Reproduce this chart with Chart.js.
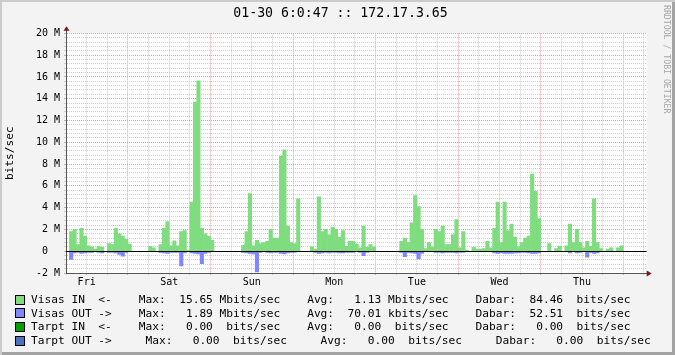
<!DOCTYPE html>
<html>
<head>
<meta charset="utf-8">
<script src="https://cdn.jsdelivr.net/npm/chart.js@4/dist/chart.umd.min.js"></script>
<style>
  html, body { margin: 0; padding: 0; background: #f3f3f3; }
  #wrap {
    position: relative; width: 675px; height: 355px; overflow: hidden;
    background: #f3f3f3;
    box-shadow: inset 2px 2px 0 #cbcbcb, inset -3px -3px 0 #a3a3a3;
  }
  #wrap canvas { position: absolute; left: 0; top: 0; }
  .lg { position: absolute; left: 31px; margin: 0; white-space: pre; color: #000;
        font: 11.2px 'DejaVu Sans Mono', monospace; line-height: 13.6px; }
  .box { position: absolute; left: 15px; width: 8px; height: 8px; border: 1px solid #000; }
  #mark { position: absolute; left: 662px; top: 5px; writing-mode: vertical-rl;
          font: 8.2px 'DejaVu Sans Mono', monospace; line-height: 10px; color: #a6a6a6; }
</style>
</head>
<body>
<div id="wrap">
  <canvas id="graph" width="675" height="355"></canvas>
  <div id="mark">RRDTOOL / TOBI OETIKER</div>
</div>
<script>
// hourly averages, Mbits/sec, from Fri 06:00 to Fri 06:00
const DAYS = ['Fri', 'Sat', 'Sun', 'Mon', 'Tue', 'Wed', 'Thu'];

const visasIn = [
  0, 1.8, 2.0, 0.6, 2.1, 1.4, 0.5, 0.4, 0.2, 0.45, 0.35, 0, 0.7, 0.6, 2.1, 1.6, 1.4, 1.1, 0.65, 0, 0, 0, 0, 0,
  0.45, 0.3, 0, 0.6, 2.1, 2.7, 0.5, 0.95, 0.5, 1.8, 1.9, 0.1, 4.5, 13.7, 15.65, 2.1, 1.6, 1.4, 1.0, 0, 0, 0, 0, 0,
  0, 0, 0, 0.55, 1.8, 5.3, 0.5, 1.0, 0.7, 0.8, 0.9, 2.0, 1.2, 1.2, 8.7, 9.3, 2.3, 0.8, 0.7, 4.8, 0, 0, 0, 0.4,
  0.2, 5.0, 1.8, 2.0, 1.5, 2.2, 2.0, 1.3, 1.9, 0.45, 0.9, 0.9, 0.65, 0.3, 2.3, 0.35, 0.6, 0.4, 0, 0, 0, 0, 0, 0,
  0, 0.9, 1.2, 0.8, 2.6, 5.1, 4.1, 2.0, 0.25, 0.8, 0.4, 2.0, 1.8, 2.3, 0.6, 0.6, 1.5, 2.9, 0.3, 1.8, 0.1, 0, 0.35, 0.2,
  0.2, 0.25, 0.9, 0.3, 2.1, 4.5, 0.8, 4.5, 1.9, 2.5, 1.3, 0.4, 0.8, 1.2, 1.4, 7.07, 5.5, 3.0, 0, 0, 0.7, 0, 0.25, 0.45,
  0, 0.5, 2.5, 0.8, 2.0, 0.8, 0.3, 0.9, 0.45, 4.8, 0.8, 0.25, 0, 0.2, 0.3, 0, 0.3, 0.5, 0, 0, 0, 0, 0, 0,
];

const visasOut = [
  0, -0.75, -0.15, -0.1, -0.2, -0.15, -0.1, -0.1, -0.05, -0.1, -0.15, 0, -0.1, -0.1, -0.15, -0.3, -0.45, -0.1, -0.05, 0, 0, 0, 0, 0,
  -0.05, -0.05, 0, -0.1, -0.15, -0.2, -0.1, -0.1, -0.1, -1.35, -0.15, 0, -0.15, -0.2, -0.25, -1.15, -0.2, -0.1, -0.05, 0, 0, 0, 0, 0,
  0, 0, 0, -0.1, -0.15, -0.2, -0.25, -1.89, -0.1, -0.05, -0.1, -0.15, -0.1, -0.1, -0.2, -0.25, -0.15, -0.1, -0.1, -0.05, 0, 0, 0, -0.05,
  -0.1, -0.2, -0.15, -0.1, -0.15, -0.1, -0.1, -0.15, -0.15, -0.1, -0.1, -0.1, -0.05, -0.1, -0.4, -0.1, -0.05, -0.05, 0, 0, 0, 0, 0, 0,
  0, -0.1, -0.5, -0.1, -0.15, -0.2, -0.7, -0.2, -0.05, -0.05, -0.05, -0.1, -0.1, -0.15, -0.1, -0.1, -0.1, -0.15, -0.1, -0.1, -0.05, 0, -0.05, 0,
  -0.05, 0, -0.05, -0.05, -0.15, -0.2, -0.15, -0.2, -0.2, -0.2, -0.15, -0.15, -0.1, -0.1, -0.15, -0.2, -0.2, -0.15, 0, 0, -0.05, 0, 0, -0.05,
  0, -0.05, -0.15, -0.05, -0.15, -0.1, -0.05, -0.55, -0.1, -0.2, -0.15, -0.05, 0, 0, -0.05, 0, 0, -0.05, 0, 0, 0, 0, 0, 0,
];

const legendColors = ['#7fdd7f', '#7f86ff', '#00a000', '#5070c0'];
const legendLines = [
  'Visas IN  <-    Max:  15.65 Mbits/sec    Avg:   1.13 Mbits/sec    Dabar:  84.46  bits/sec',
  'Visas OUT ->    Max:   1.89 Mbits/sec    Avg:  70.01 kbits/sec    Dabar:  52.51  bits/sec',
  'Tarpt IN  <-    Max:   0.00  bits/sec    Avg:   0.00  bits/sec    Dabar:   0.00  bits/sec',
  'Tarpt OUT ->     Max:   0.00  bits/sec     Avg:   0.00  bits/sec     Dabar:   0.00  bits/sec',
];

const Y_MIN = -2, Y_MAX = 20, Y_MINOR = 0.4;
const X_MAX = 168.8, X_STEP = 6;

const GRID  = '#cdcdcd';
const MGRID = '#e6a0a0';
const AXIS  = '#555';
const ARROW = '#7f1515';
const FONT  = "'DejaVu Sans Mono', monospace";
const CLEAR = 'rgba(0,0,0,0)';

// legend rows (html text)
const wrap = document.getElementById('wrap');
legendLines.forEach((txt, i) => {
  const b = document.createElement('div');
  b.className = 'box';
  b.style.top = (294.8 + i * 13.6) + 'px';
  b.style.background = legendColors[i];
  wrap.appendChild(b);
  const l = document.createElement('div');
  l.className = 'lg';
  l.style.top = (293 + i * 13.6) + 'px';
  l.textContent = txt;
  wrap.appendChild(l);
});

const isMajor = v => Math.abs(v / 2 - Math.round(v / 2)) < 1e-6;

const plotBg = {
  id: 'plotBg',
  beforeDraw(chart) {
    const { ctx, chartArea: a } = chart;
    ctx.save();
    ctx.fillStyle = '#fff';
    ctx.fillRect(a.left, a.top, a.right - a.left, a.bottom - a.top);
    ctx.restore();
  },
};

const axisDeco = {
  id: 'axisDeco',
  afterDatasetsDraw(chart) {
    const { ctx, chartArea: a, scales } = chart;
    const y0 = Math.floor(scales.y.getPixelForValue(0)) + 0.5;
    ctx.save();
    ctx.strokeStyle = '#000';
    ctx.lineWidth = 1;
    ctx.beginPath();
    ctx.moveTo(a.left, y0);
    ctx.lineTo(a.right, y0);
    ctx.stroke();
    ctx.restore();
  },
  afterDraw(chart) {
    const { ctx, chartArea: a } = chart;
    const x = Math.round(a.left) + 0.5;
    const y = Math.round(a.bottom) + 0.5;
    ctx.save();
    ctx.strokeStyle = AXIS;
    ctx.lineWidth = 1;
    ctx.beginPath();
    ctx.moveTo(x, a.top); ctx.lineTo(x, a.top - 4);
    ctx.moveTo(a.right, y); ctx.lineTo(a.right + 3, y);
    ctx.stroke();
    ctx.fillStyle = ARROW;
    ctx.beginPath();
    ctx.moveTo(x - 3, a.top - 2.5); ctx.lineTo(x + 3, a.top - 2.5); ctx.lineTo(x, a.top - 7);
    ctx.closePath(); ctx.fill();
    ctx.beginPath();
    ctx.moveTo(a.right, y - 3); ctx.lineTo(a.right, y + 3); ctx.lineTo(a.right + 5, y);
    ctx.closePath(); ctx.fill();
    ctx.restore();
  },
};

const barOpts = { grouped: false, barPercentage: 1, categoryPercentage: 1, borderWidth: 0 };

new Chart(document.getElementById('graph'), {
  type: 'bar',
  data: {
    datasets: [
      { label: 'Visas IN', data: visasIn.map((v, i) => ({ x: i + 0.5, y: v })),
        backgroundColor: legendColors[0], ...barOpts },
      { label: 'Visas OUT', data: visasOut.map((v, i) => ({ x: i + 0.5, y: v })),
        backgroundColor: legendColors[1], ...barOpts },
    ],
  },
  options: {
    responsive: false,
    devicePixelRatio: 1,
    animation: false,
    events: [],
    layout: { padding: { left: 6, right: 0, top: 0, bottom: 62 } },
    font: { family: FONT },
    plugins: {
      legend: { display: false },
      tooltip: { enabled: false },
      title: {
        display: true,
        text: '01-30 6:0:47 :: 172.17.3.65',
        color: '#000',
        font: { family: FONT, size: 13.2, weight: 'normal' },
        padding: { top: 5.4, bottom: 12.1 },
      },
    },
    scales: {
      x: {
        type: 'linear',
        min: 0,
        max: X_MAX,
        offset: false,
        afterBuildTicks: s => {
          const t = [];
          for (let v = 0; v <= 168; v += X_STEP) t.push({ value: v });
          s.ticks = t;
        },
        afterFit: s => { s.height = 20; },
        grid: {
          offset: false,
          color: c => c.tick.value === 0 ? CLEAR : (c.tick.value % 24 === 18 ? MGRID : GRID),
          tickColor: c => c.tick.value % 24 === 18 ? MGRID : GRID,
          tickLength: 2,
        },
        border: { color: AXIS, width: 1, dash: [1, 1] },
        ticks: {
          autoSkip: false, maxRotation: 0, minRotation: 0, padding: 1,
          color: '#000', font: { family: FONT, size: 10 },
          callback: v => (v % 24 === 6 ? DAYS[(v - 6) / 24] : ''),
        },
      },
      y: {
        type: 'linear',
        min: Y_MIN,
        max: Y_MAX,
        afterBuildTicks: s => {
          const t = [];
          const n = Math.round((Y_MAX - Y_MIN) / Y_MINOR);
          for (let i = 0; i <= n; i++) t.push({ value: Math.round((Y_MIN + i * Y_MINOR) * 10) / 10 });
          s.ticks = t;
        },
        afterFit: s => { s.width = 60; },
        grid: {
          color: c => (c.tick.value === Y_MIN || c.tick.value === 0) ? CLEAR : (isMajor(c.tick.value) ? MGRID : GRID),
          tickColor: c => isMajor(c.tick.value) ? MGRID : GRID,
          tickLength: 2,
        },
        border: { color: AXIS, width: 1, dash: [1, 1] },
        ticks: {
          autoSkip: false, padding: 4,
          color: '#000', font: { family: FONT, size: 10 },
          callback: v => (isMajor(v) ? (Math.round(v) === 0 ? '0  ' : Math.round(v) + ' M') : ''),
        },
        title: {
          display: true, text: 'bits/sec', color: '#000',
          font: { family: FONT, size: 11.2 },
          padding: { top: -2.2, bottom: 0 },
        },
      },
      y2: {
        type: 'linear',
        position: 'right',
        display: true,
        afterFit: s => { s.width = 28.3; },
        grid: { display: false },
        border: { display: false },
        ticks: { display: false },
      },
    },
  },
  plugins: [plotBg, axisDeco],
});
</script>
</body>
</html>
